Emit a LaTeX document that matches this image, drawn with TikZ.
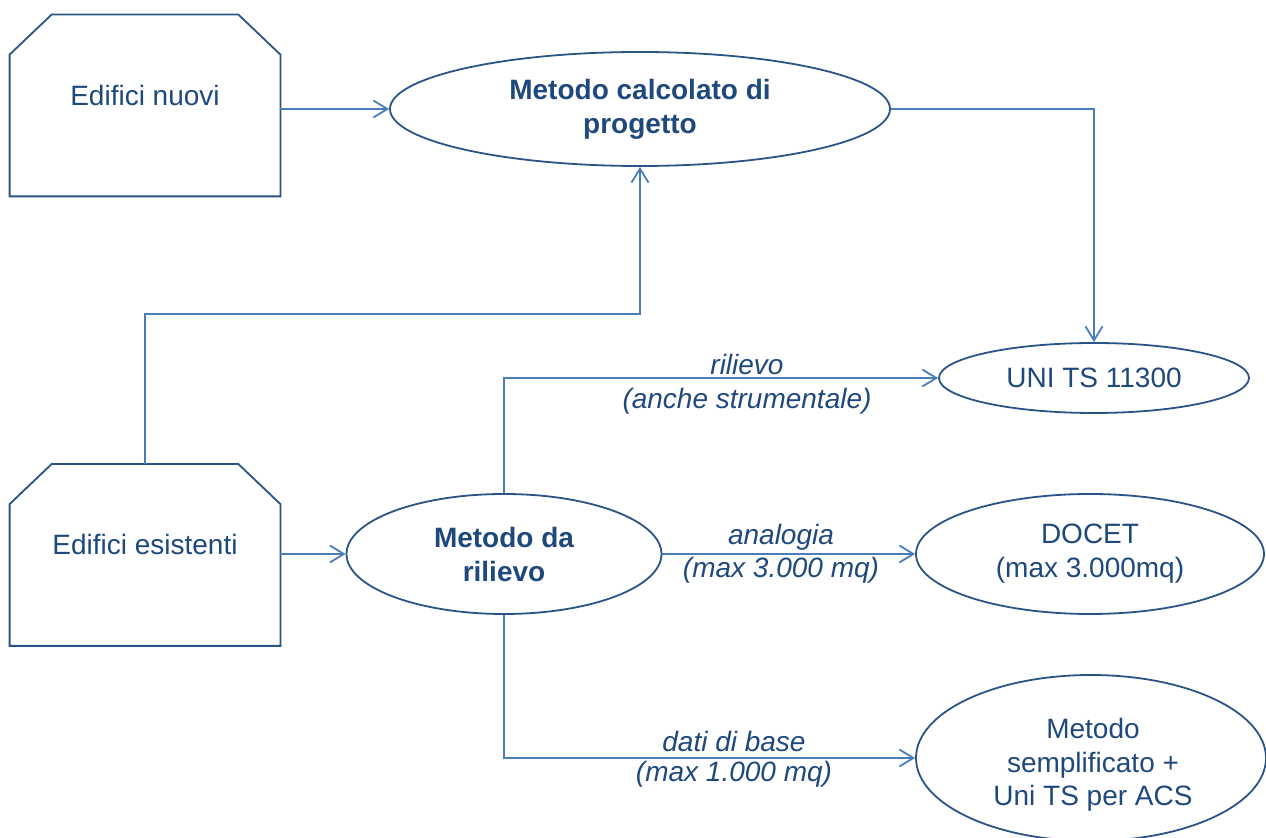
\documentclass[tikz,border=0pt]{standalone}
\usepackage{fontspec}
\setmainfont{Liberation Sans}
\usetikzlibrary{arrows.meta,shapes.geometric,calc}
\definecolor{textblue}{HTML}{1F497D}
\definecolor{lineblue}{HTML}{4A7EBB}
\definecolor{borderblue}{HTML}{2A5485}
\tikzset{
  base/.style={font=\fontsize{14}{17}\selectfont, text=textblue, inner sep=0pt},
  ell/.style={base, ellipse, draw=borderblue, line width=0.9pt, align=center},
  boxnode/.style={base, minimum width=135pt, minimum height=90.5pt, text height=6pt, text depth=6pt},
  chamf/.style={draw=borderblue, line width=0.9pt, line join=miter},
  conn/.style={draw=lineblue, line width=0.9pt, -{Straight Barb[length=7pt,width=8.5pt]}},
  lbl/.style={base, font=\fontsize{14}{17}\selectfont\itshape, anchor=base}
}
\begin{document}
\begin{tikzpicture}[x=0.5pt,y=-0.5pt]
\useasboundingbox (0,0) rectangle (1266,838);

% boxes
\node[boxnode] (nuovi) at (145,105.5) {Edifici nuovi};
\node[boxnode] (esist) at (145,555) {Edifici esistenti};
\foreach \b in {nuovi,esist}{
  \draw[chamf] (\b.south west) -- ([yshift=-20pt]\b.north west) -- ([xshift=21pt]\b.north west)
    -- ([xshift=-21pt]\b.north east) -- ([yshift=-20pt]\b.north east) -- (\b.south east) -- cycle;
}

% ellipses
\node[ell, minimum width=250pt, minimum height=57pt, font=\fontsize{14}{17}\selectfont\bfseries] (calc) at (640,109) {Metodo calcolato di\\progetto};
\node[ell, minimum width=155pt, minimum height=35pt] (units) at (1094,378) {UNI TS 11300};
\node[ell, minimum width=157.5pt, minimum height=60pt, font=\fontsize{14}{17}\selectfont\bfseries] (ril) at (504,554) {Metodo da\\rilievo};
\node[ell, minimum width=174pt, minimum height=60pt] (docet) at (1090,554) {DOCET\\(max 3.000mq)};
\node[ell, minimum width=175pt, minimum height=83pt] (semp) at (1091,758) {};
\node[base, align=center, font=\fontsize{14}{16.75}\selectfont] (semptxt) at (1093,765) {Metodo\\semplificato +\\Uni TS per ACS};

% connectors
\draw[conn] (nuovi.east |- calc.west) -- (calc.west);
\draw[conn] (calc.east) -| (units.north);
\draw[conn] (esist.north) -- ++(0,-150) -| (calc.south);
\draw[conn] (esist.east |- ril.west) -- (ril.west);
\draw[conn] (ril.north) |- (units.west);
\draw[conn] (ril.east) -- (docet.west);
\draw[conn] (ril.south) |- (semp.west);

% labels
\node[lbl] (l1a) at (747,375) {rilievo};
\node[lbl] (l1b) at (747,409) {(anche strumentale)};
\node[lbl] (l2a) at (781,545) {analogia};
\node[lbl] (l2b) at (781,578) {(max 3.000 mq)};
\node[lbl] (l3a) at (734,752) {dati di base};
\node[lbl] (l3b) at (734,782) {(max 1.000 mq)};
\end{tikzpicture}
\end{document}
